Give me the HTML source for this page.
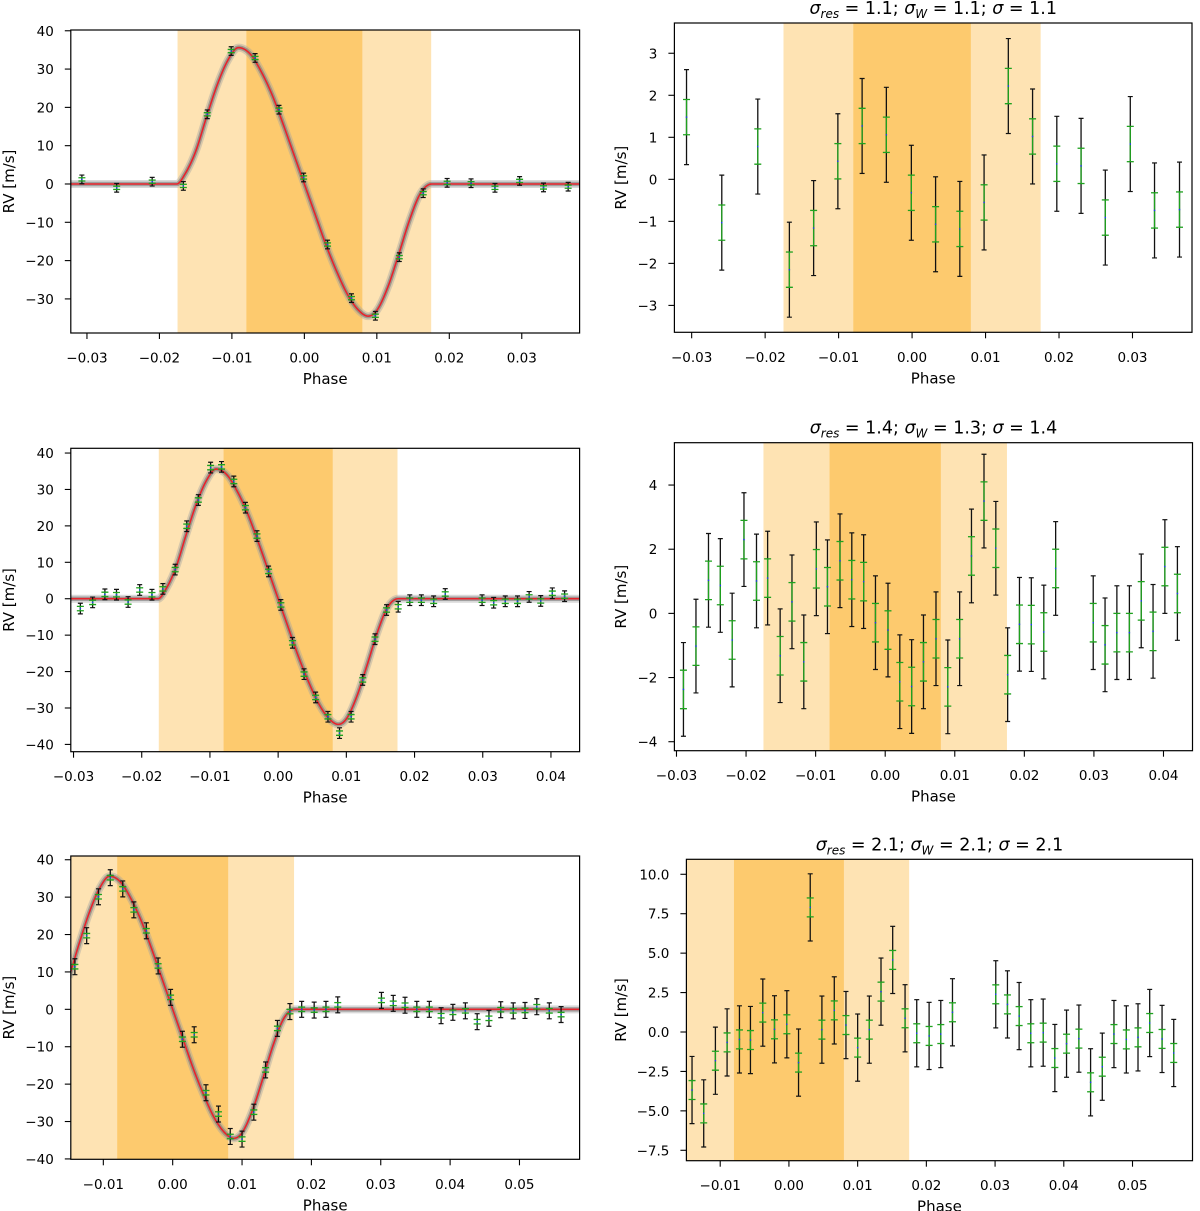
<!DOCTYPE html>
<html><head><meta charset="utf-8"><title>RV phase plots</title>
<style>
html,body{margin:0;padding:0;background:#fff;}
svg{display:block;font-family:"DejaVu Sans","Liberation Sans",sans-serif;}
</style></head>
<body>
<svg id="fig" xmlns="http://www.w3.org/2000/svg" width="1200" height="1211" viewBox="0 0 1200 1211"></svg>
<script>
// ---------- data ----------
const row1Phase = [-0.0307,-0.0259,-0.0210,-0.0167,-0.0134,-0.0101,-0.0068,-0.0035,-0.0001,0.0032,0.0065,0.0098,0.0131,0.0164,0.0197,0.0230,0.0263,0.0297,0.0330,0.0364];
const row1RV = [1.2,-1.0,0.6,-0.5,18.2,34.7,32.9,19.4,1.7,-15.8,-29.8,-34.4,-19.1,-2.4,0.3,0.2,-1.0,0.8,-0.9,-0.7];
const row1Res = [1.48,-1.03,0.78,-2.15,-1.16,0.43,1.27,1.06,-0.32,-1.07,-1.18,-0.55,2.22,1.02,0.37,0.32,-0.91,0.84,-0.74,-0.72];
const row1Err = 1.13, row1Jit = 0.42;

const row2Phase = [-0.0290,-0.0272,-0.0254,-0.0237,-0.0220,-0.0203,-0.0185,-0.0169,-0.0151,-0.0134,-0.0117,-0.0099,-0.0083,-0.0065,-0.0048,-0.0031,-0.0014,0.0004,0.0021,0.0038,0.0055,0.0073,0.0090,0.0107,0.0124,0.0142,0.0159,0.0176,0.0193,0.0210,0.0228,0.0245,0.0299,0.0316,0.0333,0.0351,0.0368,0.0385,0.0402,0.0420];
const row2RV = [-2.7,-1.0,1.2,1.1,-0.9,2.4,1.1,2.7,8.0,19.9,27.1,36.0,36.2,32.2,25.0,17.2,7.5,-1.7,-12.1,-20.7,-27.1,-32.4,-36.9,-32.4,-22.3,-11.1,-3.1,-2.2,-0.4,-0.4,-0.7,1.3,-0.4,-1.1,-0.7,-0.7,0.5,-0.6,1.5,0.7];
const row2Res = [-2.37,-1.02,1.03,0.87,-0.83,2.30,1.01,1.10,-1.32,0.36,-1.51,1.39,0.83,1.64,1.05,0.99,-0.29,-0.52,-2.13,-2.28,-1.51,-0.79,-2.29,-0.79,1.79,3.50,2.03,-1.91,-0.34,-0.35,-0.58,1.40,-0.29,-0.98,-0.60,-0.60,0.39,-0.56,1.46,0.62];
const row2Err = 1.46, row2Jit = 0.6;

const row3Phase = [-0.0141,-0.0124,-0.0107,-0.0090,-0.0072,-0.0056,-0.0038,-0.0021,-0.0003,0.0014,0.0031,0.0048,0.0066,0.0083,0.0100,0.0117,0.0134,0.0151,0.0169,0.0186,0.0204,0.0221,0.0238,0.0301,0.0318,0.0335,0.0352,0.0370,0.0387,0.0404,0.0422,0.0439,0.0456,0.0473,0.0491,0.0508,0.0525,0.0543,0.0560];
const row3RV = [11.4,19.7,30.1,35.2,32.2,26.6,21.0,11.6,3.2,-8.0,-6.8,-22.3,-28.0,-34.0,-34.7,-27.5,-16.2,-5.1,-0.6,0.0,-0.2,0.0,1.2,2.4,1.6,1.1,0.0,0.0,-1.7,-0.8,-0.4,-3.3,-2.4,-0.1,-0.4,-0.3,0.7,-0.4,-1.4];
const row3Res = [-3.68,-5.16,-1.82,-0.66,-0.47,-0.51,1.23,0.17,0.49,-1.94,7.90,0.15,1.37,0.44,-0.99,0.15,2.56,4.57,0.87,-0.08,-0.25,-0.13,1.25,2.39,1.75,1.01,-0.08,-0.04,-1.65,-0.74,-0.42,-3.19,-2.20,-0.13,-0.47,-0.34,0.57,-0.44,-1.33];
const row3Err = 2.13, row3Jit = 0.6;

const modelPhase = [-0.06,-0.04,-0.0176,-0.0165,-0.015,-0.0135,-0.012,-0.0105,-0.0091,-0.0075,-0.006,-0.0045,-0.003,-0.0015,0,0.0015,0.003,0.0045,0.006,0.0075,0.0088,0.010,0.0115,0.013,0.0145,0.016,0.0176,0.04,0.07];
const modelRV = [0,0,0,2.5,8.5,17.5,26,32.5,35.6,34,29.5,23.5,16,8,0,-8,-16,-23,-29,-33,-34.5,-33,-27,-18.5,-9.5,-2.5,0,0,0];

const transitOuter = [-0.0175, 0.0175];
const transitInner = [-0.0080, 0.0080];

const tickX1 = [-0.03,-0.02,-0.01,0,0.01,0.02,0.03];
const tickX2 = [-0.03,-0.02,-0.01,0,0.01,0.02,0.03,0.04];
const tickX3 = [-0.01,0,0.01,0.02,0.03,0.04,0.05];
const tickYL1 = [-30,-20,-10,0,10,20,30,40];
const tickYL = [-40,-30,-20,-10,0,10,20,30,40];
const tickYR1 = [-3,-2,-1,0,1,2,3];
const tickYR2 = [-4,-2,0,2,4];
const tickYR3 = [-7.5,-5,-2.5,0,2.5,5,7.5,10];

const titles = [["1.1","1.1","1.1"],["1.4","1.3","1.4"],["2.1","2.1","2.1"]];

// ---------- rendering ----------
const NS = "http://www.w3.org/2000/svg";
const fig = document.getElementById("fig");
function mk(parent, tag, attrs, text){
  const e = document.createElementNS(NS, tag);
  for (const k in attrs) e.setAttribute(k, attrs[k]);
  if (text !== undefined) e.textContent = text;
  parent.appendChild(e);
  return e;
}
function fmt(v, dec){
  const s = Math.abs(v).toFixed(dec);
  return (v < -1e-9 ? "\u2212" : "") + s;
}
// monotone cubic (Fritsch-Carlson) interpolation of the model samples
function monoInterp(xs, ys){
  const n = xs.length, d = [], m = new Array(n);
  for (let i=0;i<n-1;i++) d.push((ys[i+1]-ys[i])/(xs[i+1]-xs[i]));
  m[0]=d[0]; m[n-1]=d[n-2];
  for (let i=1;i<n-1;i++) m[i] = (d[i-1]*d[i] <= 0) ? 0 : (d[i-1]+d[i])/2;
  for (let i=0;i<n-1;i++){
    if (d[i]===0){ m[i]=0; m[i+1]=0; continue; }
    const a=m[i]/d[i], b=m[i+1]/d[i], s=a*a+b*b;
    if (s>9){ const t=3/Math.sqrt(s); m[i]=t*a*d[i]; m[i+1]=t*b*d[i]; }
  }
  return function(x){
    let i=0; while (i<n-2 && x>xs[i+1]) i++;
    const h=xs[i+1]-xs[i], t=(x-xs[i])/h, t2=t*t, t3=t2*t;
    return (2*t3-3*t2+1)*ys[i] + (t3-2*t2+t)*h*m[i] + (-2*t3+3*t2)*ys[i+1] + (t3-t2)*h*m[i+1];
  };
}
const modelFn = monoInterp(modelPhase, modelRV);

let clipId = 0;
function panel(cfg){
  const g = mk(fig, "g", {});
  
  
  const L=cfg.box[0], T=cfg.box[1], R=cfg.box[2], B=cfg.box[3];
  const sx = p => L + (p - cfg.xd[0]) / (cfg.xd[1]-cfg.xd[0]) * (R-L);
  const sy = v => B - (v - cfg.yd[0]) / (cfg.yd[1]-cfg.yd[0]) * (B-T);
  clipId++;
  const cp = mk(g, "clipPath", {id:"c"+clipId});
  mk(cp, "rect", {x:L, y:T, width:R-L, height:B-T});
  const inner = mk(g, "g", {"clip-path":"url(#c"+clipId+")"});
  const so = mk(inner, "rect", {x:sx(transitOuter[0]), y:T, width:sx(transitOuter[1])-sx(transitOuter[0]), height:B-T, fill:"#fee3b3"});
  
  
  const si = mk(inner, "rect", {x:sx(transitInner[0]), y:T, width:sx(transitInner[1])-sx(transitInner[0]), height:B-T, fill:"#fdca6e"});
  
  
  if (cfg.model){
    let d = "";
    for (let px=L-2; px<=R+2; px+=1){
      const p = cfg.xd[0] + (px-L)/(R-L)*(cfg.xd[1]-cfg.xd[0]);
      d += (d ? " L" : "M") + px.toFixed(1) + "," + sy(modelFn(p)).toFixed(2);
    }
    const b1 = mk(inner, "path", {d:d, fill:"none", stroke:"#a0a0a0", "stroke-width":8, "stroke-opacity":0.4, "stroke-linejoin":"round"});
    
    
    const b2 = mk(inner, "path", {d:d, fill:"none", stroke:"#7a7a7a", "stroke-width":4.5, "stroke-opacity":0.6, "stroke-linejoin":"round"});
    
    
    const ml = mk(inner, "path", {d:d, fill:"none", stroke:"#e8232b", "stroke-width":1.6, "stroke-linejoin":"round"});
    
    
  }
  cfg.px.forEach((p,i)=>{
    const x = sx(p), v = cfg.py[i];
    const pg = mk(inner, "g", {});
    
    
    const y1 = sy(v+cfg.err), y2 = sy(v-cfg.err);
    mk(pg, "line", {x1:x, x2:x, y1:y1, y2:y2, stroke:"#111", "stroke-width":1.3});
    mk(pg, "line", {x1:x-2.5, x2:x+2.5, y1:y1, y2:y1, stroke:"#111", "stroke-width":1.2});
    mk(pg, "line", {x1:x-2.5, x2:x+2.5, y1:y2, y2:y2, stroke:"#111", "stroke-width":1.2});
    const g1 = sy(v+cfg.jit), g2 = sy(v-cfg.jit);
    mk(pg, "line", {x1:x, x2:x, y1:g1, y2:g2, stroke:"#1fa21f", "stroke-width":1.3});
    mk(pg, "line", {x1:x-3.5, x2:x+3.5, y1:g1, y2:g1, stroke:"#1fa21f", "stroke-width":1.3});
    mk(pg, "line", {x1:x-3.5, x2:x+3.5, y1:g2, y2:g2, stroke:"#1fa21f", "stroke-width":1.3});
    mk(pg, "rect", {x:x-0.7, y:sy(v)-0.7, width:1.4, height:1.4, fill:"#2030ff"});
  });
  const fr = mk(g, "rect", {x:L, y:T, width:R-L, height:B-T, fill:"none", stroke:"#000", "stroke-width":1.2});
  
  
  const xa = mk(g, "g", {});
  
  
  cfg.xt.forEach(t=>{
    const x = sx(t);
    mk(xa, "line", {x1:x, x2:x, y1:B, y2:B+6, stroke:"#000", "stroke-width":1.1});
    const tl = mk(xa, "text", {x:x, y:B+29.5, "text-anchor":"middle", "font-size":13.5, fill:"#000"}, fmt(t,2));
    
    
  });
  const xl = mk(xa, "text", {x:(L+R)/2, y:B+51, "text-anchor":"middle", "font-size":15, fill:"#000"}, "Phase");
  
  
  const ya = mk(g, "g", {});
  
  
  cfg.yt.forEach(t=>{
    const y = sy(t);
    mk(ya, "line", {x1:L-6, x2:L, y1:y, y2:y, stroke:"#000", "stroke-width":1.1});
    const tl = mk(ya, "text", {x:L-17, y:y+5, "text-anchor":"end", "font-size":13.5, fill:"#000"}, fmt(t,cfg.ydec));
    
    
  });
  const yc = (T+B)/2;
  const yl = mk(ya, "text", {x:cfg.ylx, y:yc, "text-anchor":"middle", "font-size":15, fill:"#000", transform:"rotate(-90 "+cfg.ylx+" "+yc+")", dy:"5"}, "RV [m/s]");
  
  
  if (cfg.title){
    const tt = mk(g, "text", {x:(L+R)/2, y:T-9, "text-anchor":"middle", "font-size":17.5, fill:"#000"});
    
    
    const v = cfg.title;
    mk(tt, "tspan", {"font-style":"italic"}, "\u03c3");
    mk(tt, "tspan", {"font-style":"italic", "font-size":12, dy:"4"}, "res");
    mk(tt, "tspan", {dy:"-4"}, " = "+v[0]+"; ");
    mk(tt, "tspan", {"font-style":"italic"}, "\u03c3");
    mk(tt, "tspan", {"font-style":"italic", "font-size":12, dy:"4"}, "W");
    mk(tt, "tspan", {dy:"-4"}, " = "+v[1]+"; ");
    mk(tt, "tspan", {"font-style":"italic"}, "\u03c3");
    mk(tt, "tspan", {}, " = "+v[2]);
  }
}

panel({name:"rv-panel-1", box:[70.8,30,579.6,333], xd:[-0.03223,0.03798], yd:[-38.9,40.2], xt:tickX1, yt:tickYL1, ydec:0, ylx:9,
  px:row1Phase, py:row1RV, err:row1Err, jit:row1Jit, model:true});
panel({name:"residual-panel-1", box:[674.4,23,1192,332.3], xd:[-0.03235,0.0381], yd:[-3.64,3.72], xt:tickX1, yt:tickYR1, ydec:0, ylx:621,
  px:row1Phase, py:row1Res, err:row1Err, jit:row1Jit, title:titles[0]});
panel({name:"rv-panel-2", box:[70.8,448.3,579.6,751.7], xd:[-0.0304,0.0442], yd:[-42.0,41.3], xt:tickX2, yt:tickYL, ydec:0, ylx:9,
  px:row2Phase, py:row2RV, err:row2Err, jit:row2Jit, model:true});
panel({name:"residual-panel-2", box:[674.4,442.7,1192.5,750.7], xd:[-0.0303,0.04417], yd:[-4.28,5.32], xt:tickX2, yt:tickYR2, ydec:0, ylx:621,
  px:row2Phase, py:row2Res, err:row2Err, jit:row2Jit, title:titles[1]});
panel({name:"rv-panel-3", box:[70.8,856,579.6,1159.3], xd:[-0.01469,0.05867], yd:[-40.1,41.0], xt:tickX3, yt:tickYL, ydec:0, ylx:9,
  px:row3Phase, py:row3RV, err:row3Err, jit:row3Jit, model:true});
panel({name:"residual-panel-3", box:[686.4,859.3,1192.5,1160.7], xd:[-0.01492,0.05873], yd:[-8.16,10.95], xt:tickX3, yt:tickYR3, ydec:1, ylx:621,
  px:row3Phase, py:row3Res, err:row3Err, jit:row3Jit, title:titles[2]});
</script>
</body></html>
